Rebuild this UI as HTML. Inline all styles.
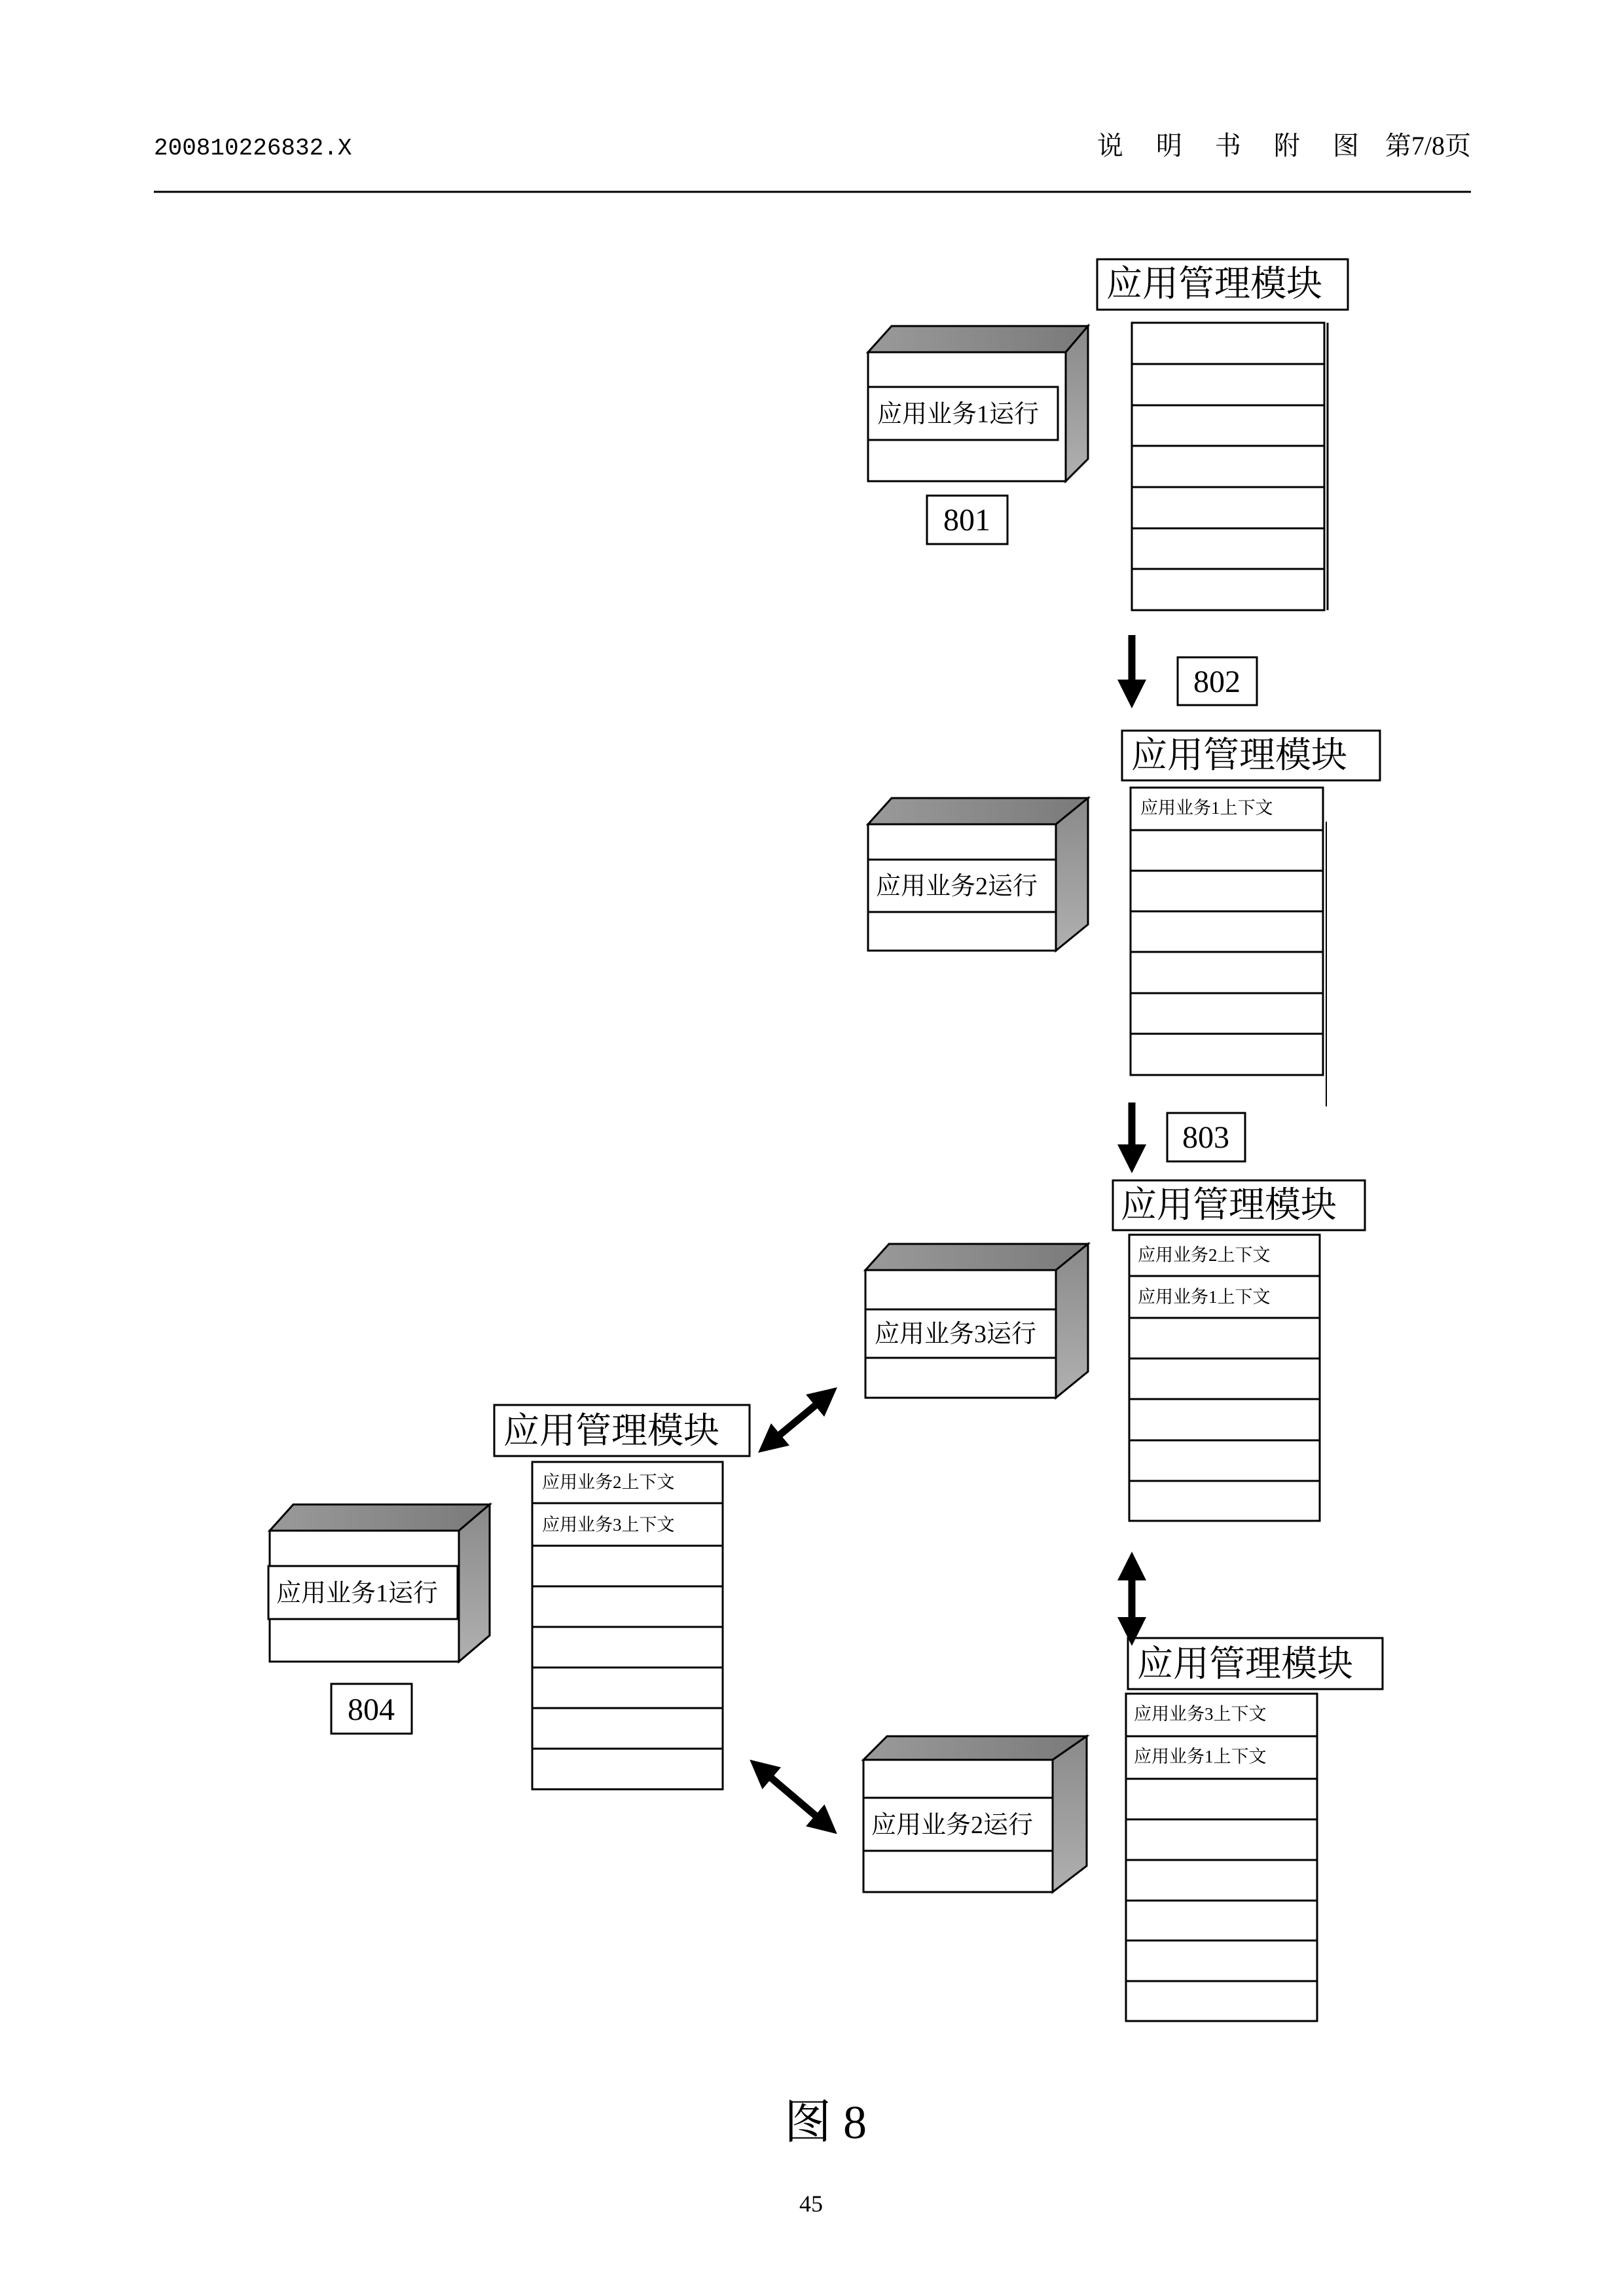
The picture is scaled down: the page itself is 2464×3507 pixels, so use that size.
<!DOCTYPE html>
<html><head><meta charset="utf-8"><style>
html,body{margin:0;padding:0;background:#fff}
svg{display:block}
.s{font-family:"Liberation Serif","Noto Serif CJK SC",serif}
</style></head><body>
<svg width="2464" height="3507" viewBox="0 0 2464 3507" xmlns="http://www.w3.org/2000/svg" class="s">
<defs>
<linearGradient id="top" x1="0" y1="0" x2="1" y2="0"><stop offset="0" stop-color="#9a9a9a"/><stop offset="1" stop-color="#7a7a7a"/></linearGradient>
<linearGradient id="side" x1="0" y1="0" x2="0" y2="1"><stop offset="0" stop-color="#8a8a8a"/><stop offset="1" stop-color="#b0b0b0"/></linearGradient>
<marker id="ah" viewBox="0 0 10 10" refX="5" refY="5" markerWidth="4" markerHeight="4" orient="auto-start-reverse"><path d="M0,0 L10,5 L0,10 z" fill="#000"/></marker>
</defs>
<text x="235" y="236" font-size="36" font-family="Liberation Mono,monospace">200810226832.X</text>
<text x="2247" y="236" font-size="40" text-anchor="end" font-family="Liberation Serif,Noto Serif CJK SC,serif">说　 明　 书　 附　 图　第7/8页</text>
<line x1="235" y1="293" x2="2247" y2="293" stroke="#000" stroke-width="3"/>

<g fill="#fff" stroke="#000" stroke-width="3">
<rect x="1676" y="396" width="383" height="77"/>
<rect x="1729" y="493" width="294" height="439"/>
<line x1="2028" y1="493" x2="2028" y2="932"/>
<path d="M1729 556H2023M1729 619H2023M1729 681H2023M1729 744H2023M1729 807H2023M1729 869H2023"/>
<rect x="1714" y="1116" width="394" height="76"/>
<rect x="1727" y="1203" width="294" height="439"/>
<line x1="2026" y1="1255" x2="2026" y2="1690" stroke-width="2"/>
<path d="M1727 1268H2021M1727 1330H2021M1727 1392H2021M1727 1454H2021M1727 1517H2021M1727 1579H2021"/>
<rect x="1700" y="1803" width="385" height="76"/>
<rect x="1725" y="1886" width="291" height="437"/>
<path d="M1725 1949H2016M1725 2013H2016M1725 2075H2016M1725 2137H2016M1725 2200H2016M1725 2262H2016"/>
<rect x="1723" y="2502" width="389" height="78"/>
<rect x="1720" y="2587" width="292" height="500"/>
<path d="M1720 2652H2012M1720 2717H2012M1720 2779H2012M1720 2841H2012M1720 2903H2012M1720 2964H2012M1720 3026H2012"/>
<rect x="755" y="2146" width="390" height="78"/>
<rect x="813" y="2233" width="291" height="500"/>
<path d="M813 2296H1104M813 2361H1104M813 2423H1104M813 2485H1104M813 2547H1104M813 2609H1104M813 2671H1104"/>
</g>

<g stroke="#000" stroke-width="3">
<g>
<polygon points="1326,538 1362,498 1662,498 1628,538" fill="url(#top)"/>
<polygon points="1628,538 1662,498 1662,701 1628,735" fill="url(#side)"/>
<rect x="1326" y="538" width="302" height="197" fill="#fff"/>
<rect x="1326" y="591" width="290" height="81" fill="#fff"/>
</g>
<g>
<polygon points="1326,1259 1362,1219 1662,1219 1613,1259" fill="url(#top)"/>
<polygon points="1613,1259 1662,1219 1662,1412 1613,1452" fill="url(#side)"/>
<rect x="1326" y="1259" width="287" height="193" fill="#fff"/>
<rect x="1326" y="1313" width="287" height="80" fill="#fff"/>
</g>
<g>
<polygon points="1322,1940 1358,1900 1662,1900 1613,1940" fill="url(#top)"/>
<polygon points="1613,1940 1662,1900 1662,2095 1613,2135" fill="url(#side)"/>
<rect x="1322" y="1940" width="291" height="195" fill="#fff"/>
<rect x="1322" y="2000" width="291" height="74" fill="#fff"/>
</g>
<g>
<polygon points="1319,2688 1355,2652 1660,2652 1608,2688" fill="url(#top)"/>
<polygon points="1608,2688 1660,2652 1660,2850 1608,2890" fill="url(#side)"/>
<rect x="1319" y="2688" width="289" height="202" fill="#fff"/>
<rect x="1319" y="2746" width="289" height="81" fill="#fff"/>
</g>
<g>
<polygon points="412,2338 448,2298 748,2298 701,2338" fill="url(#top)"/>
<polygon points="701,2338 748,2298 748,2498 701,2538" fill="url(#side)"/>
<rect x="412" y="2338" width="289" height="200" fill="#fff"/>
<rect x="410" y="2392" width="289" height="81" fill="#fff"/>
</g>
</g>

<g fill="#fff" stroke="#000" stroke-width="3">
<rect x="1416" y="757" width="123" height="74"/>
<rect x="1799" y="1004" width="121" height="73"/>
<rect x="1783" y="1700" width="119" height="74"/>
<rect x="506" y="2572" width="123" height="76"/>
</g>
<g font-size="48" text-anchor="middle">
<text x="1477" y="810">801</text>
<text x="1859" y="1057">802</text>
<text x="1842" y="1753">803</text>
<text x="567" y="2627">804</text>
</g>

<g stroke="#000" stroke-width="11">
<line x1="1729" y1="970" x2="1729" y2="1060" marker-end="url(#ah)"/>
<line x1="1729" y1="1684" x2="1729" y2="1770" marker-end="url(#ah)"/>
<line x1="1729" y1="2392" x2="1729" y2="2492" marker-start="url(#ah)" marker-end="url(#ah)"/>
<line x1="1175" y1="2205" x2="1262" y2="2133" marker-start="url(#ah)" marker-end="url(#ah)"/>
<line x1="1162" y1="2702" x2="1262" y2="2787" marker-start="url(#ah)" marker-end="url(#ah)"/>
</g>

<g font-size="55">
<text x="1690" y="452">应用管理模块</text>
<text x="1728" y="1172">应用管理模块</text>
<text x="1712" y="1859">应用管理模块</text>
<text x="1737" y="2560">应用管理模块</text>
<text x="769" y="2204">应用管理模块</text>
</g>
<g font-size="38">
<text x="1340" y="645">应用业务1运行</text>
<text x="1338" y="1366">应用业务2运行</text>
<text x="1336" y="2050">应用业务3运行</text>
<text x="1331" y="2800">应用业务2运行</text>
<text x="422" y="2446">应用业务1运行</text>
</g>
<g font-size="27">
<text x="1742" y="1243">应用业务1上下文</text>
<text x="1738" y="1926">应用业务2上下文</text>
<text x="1738" y="1990">应用业务1上下文</text>
<text x="1732" y="2627">应用业务3上下文</text>
<text x="1732" y="2692">应用业务1上下文</text>
<text x="828" y="2273">应用业务2上下文</text>
<text x="828" y="2338">应用业务3上下文</text>
</g>
<text x="1261" y="3266" font-size="72" text-anchor="middle">图 8</text>
<text x="1239" y="3378" font-size="36" text-anchor="middle">45</text>
</svg>
</body></html>
